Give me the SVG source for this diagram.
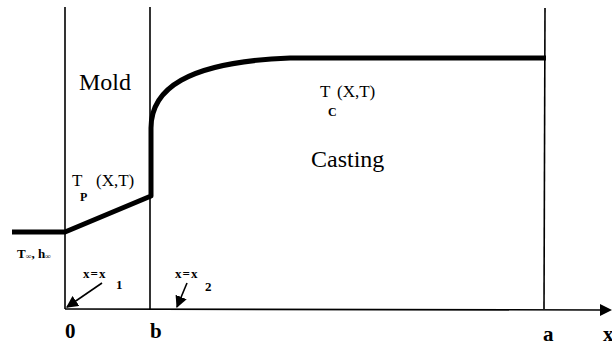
<svg xmlns="http://www.w3.org/2000/svg" width="612" height="345" viewBox="0 0 612 345">
<style>
.thin{stroke:#000;stroke-width:1.6;fill:none}
.thick{stroke:#000;stroke-width:5;fill:none;stroke-linejoin:round}
.t{fill:#000}
.big{font-size:24px}
.ax{font-size:21px;font-weight:bold}
.mid{font-size:17px}
.sub{font-size:12px;font-weight:bold}
.sm{font-size:13px;font-weight:bold}
</style>
<defs>
<marker id="ah2" viewBox="0 0 10 10" refX="9" refY="5" markerWidth="12" markerHeight="12" orient="auto" markerUnits="userSpaceOnUse">
<path d="M0,0 L10,5 L0,10 Z" fill="#000"/>
</marker>
</defs>
<g id="frame">
<line class="thin" x1="65" y1="7" x2="65" y2="309"/>
<line class="thin" x1="150" y1="7" x2="150" y2="309"/>
<line class="thin" x1="545" y1="8" x2="544" y2="309"/>
<line class="thin" x1="65" y1="309" x2="602" y2="310"/>
<path d="M600,304 L612,310 L600,316 Z" fill="#000"/>
</g>
<g id="profile">
<path class="thick" d="M12,232 L65,232 L151,196 L151,128 C151,90 185,62 290,58 L546,58"/>
</g>
<g id="connectors">
<line class="thin" x1="102" y1="283" x2="67" y2="307" stroke-width="2.5" marker-end="url(#ah2)"/>
<line class="thin" x1="187" y1="283" x2="177" y2="307" stroke-width="2.5" marker-end="url(#ah2)"/>
</g>
<g id="labels" font-family="Liberation Serif, DejaVu Serif, Times New Roman, serif">
<text class="t big" x="79" y="90">Mold</text>
<text class="t big" x="311" y="167">Casting</text>
<text class="t mid" x="320" y="97">T</text>
<text class="t sub" x="328" y="116">C</text>
<text class="t mid" x="337" y="97">(X,T)</text>
<text class="t mid" x="72" y="186">T</text>
<text class="t sub" x="80" y="201">P</text>
<text class="t mid" x="96" y="186">(X,T)</text>
<text class="t sm" x="17" y="258">T<tspan font-size="8" dy="1">∞</tspan><tspan dy="-1">, h</tspan><tspan font-size="8" dy="1">∞</tspan></text>
<text class="t sm" x="83" y="278" letter-spacing="1">x=x</text>
<text class="t sm" x="116" y="289">1</text>
<text class="t sm" x="175" y="278" letter-spacing="1">x=x</text>
<text class="t sm" x="205" y="291">2</text>
<text class="t ax" x="65" y="338">0</text>
<text class="t ax" x="150" y="338">b</text>
<text class="t ax" x="543" y="341">a</text>
<text class="t ax" x="603" y="341">x</text>
</g>
</svg>
